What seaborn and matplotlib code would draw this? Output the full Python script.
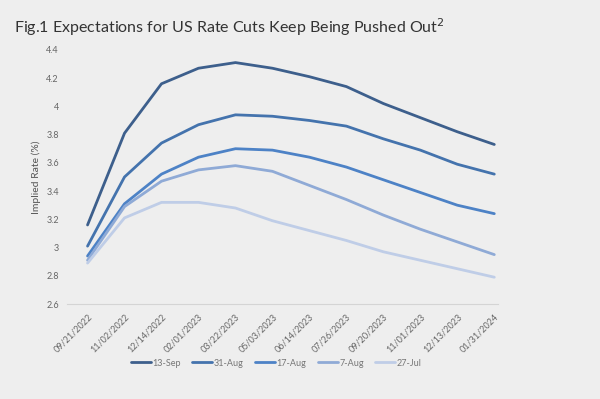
import pandas as pd
import seaborn as sns
import matplotlib.pyplot as plt

dates = ['09/21/2022', '11/02/2022', '12/14/2022', '02/01/2023', '03/22/2023',
         '05/03/2023', '06/14/2023', '07/26/2023', '09/20/2023', '11/01/2023',
         '12/13/2023', '01/31/2024']
series = ['13-Sep', '31-Aug', '17-Aug', '7-Aug', '27-Jul']
sep13 = [3.16, 3.81, 4.16, 4.27, 4.31, 4.27, 4.21, 4.14, 4.02, 3.92, 3.82, 3.73]
aug31 = [3.01, 3.50, 3.74, 3.87, 3.94, 3.93, 3.90, 3.86, 3.77, 3.69, 3.59, 3.52]
aug17 = [2.94, 3.31, 3.52, 3.64, 3.70, 3.69, 3.64, 3.57, 3.48, 3.39, 3.30, 3.24]
aug7 = [2.91, 3.29, 3.47, 3.55, 3.58, 3.54, 3.44, 3.34, 3.23, 3.13, 3.04, 2.95]
jul27 = [2.89, 3.21, 3.32, 3.32, 3.28, 3.19, 3.12, 3.05, 2.97, 2.91, 2.85, 2.79]
colors = ['#3d5f8c', '#4473ad', '#4d82c6', '#8faad6', '#bfcde7']

df = pd.DataFrame({'Date': list(range(len(dates))) * len(series),
                   'Series': [s for s in series for _ in dates],
                   'Rate': sep13 + aug31 + aug17 + aug7 + jul27})

bg = '#eeeeee'
sns.set_theme(style='white', rc={'figure.facecolor': bg, 'axes.facecolor': bg})
plt.rcParams['font.family'] = ['Lato', 'DejaVu Sans']

fig = plt.figure(figsize=(6, 3.99), dpi=100)
ax = fig.add_axes([0.112, 0.238, 0.718, 0.637])
sns.lineplot(data=df, x='Date', y='Rate', hue='Series', hue_order=series,
             palette=dict(zip(series, colors)), linewidth=2, ax=ax)

ax.set_xlim(-0.55, 11.1)
ax.set_ylim(2.6, 4.4)
ax.set_yticks([2.6 + 0.2 * i for i in range(10)])
ax.set_yticklabels(['2.6', '2.8', '3', '3.2', '3.4', '3.6', '3.8', '4', '4.2', '4.4'])
ax.set_xticks(range(len(dates)))
ax.set_xticklabels(dates, rotation=45, ha='right', rotation_mode='anchor')
ax.tick_params(axis='both', labelsize=6.5, colors='#666666', length=0, pad=6)
for s in ['top', 'right', 'left']:
    ax.spines[s].set_visible(False)
ax.spines['bottom'].set_color('#d4d4d4')
ax.spines['bottom'].set_linewidth(0.8)
ax.set_xlabel('')
ax.set_ylabel('Implied Rate (%)', fontsize=7.5, color='#555555', labelpad=4)

ax.legend(loc='center', bbox_to_anchor=(0.485, -0.232), ncol=5, frameon=False,
          fontsize=6.5, handlelength=2.2, handletextpad=0.15, columnspacing=1.3,
          labelcolor='#777777')

fig.text(0.023, 0.932, 'Fig.1 Expectations for US Rate Cuts Keep Being Pushed Out$^{2}$',
         fontsize=11.5, color='#333333', ha='left', va='center')

plt.savefig('out.png', dpi=100, facecolor=bg)
